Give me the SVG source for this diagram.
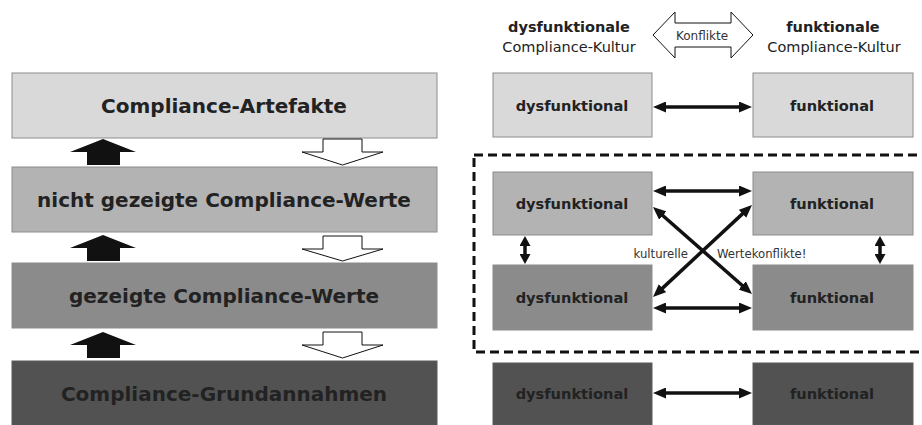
<svg xmlns="http://www.w3.org/2000/svg" width="922" height="425" viewBox="0 0 922 425">
  <style>
    .layer { stroke: #8c8c8c; stroke-width: 1; }
    .l1 { fill: #d9d9d9; }
    .l2 { fill: #b3b3b3; }
    .l3 { fill: #8b8b8b; }
    .l4 { fill: #525252; stroke: #5a5a5a; }
    .big { font-family: "DejaVu Sans", Verdana, sans-serif; font-weight: bold; font-size: 20px; fill: #222; text-anchor: middle; }
    .box { font-family: "DejaVu Sans", Verdana, sans-serif; font-weight: bold; font-size: 14.6px; fill: #222; text-anchor: middle; }
    .head { font-family: "DejaVu Sans", Verdana, sans-serif; font-size: 14.5px; fill: #222; text-anchor: middle; }
    .head b, .hb { font-weight: bold; }
    .small { font-family: "DejaVu Sans", Verdana, sans-serif; font-size: 11.7px; fill: #333; }
    .up { fill: #111; }
    .down { fill: #fff; stroke: #111; stroke-width: 1; }
    .link { stroke: #111; stroke-width: 3.5; fill: none; }
  </style>
  <defs>
    <marker id="tip" markerUnits="userSpaceOnUse" markerWidth="13" markerHeight="11" refX="8" refY="5.5" orient="auto-start-reverse">
      <path d="M0,0 L13,5.5 L0,11 Z" fill="#111"/>
    </marker>
    <marker id="tipS" markerUnits="userSpaceOnUse" markerWidth="10" markerHeight="11" refX="6" refY="5.5" orient="auto-start-reverse">
      <path d="M0,0 L10,5.5 L0,11 Z" fill="#111"/>
    </marker>
  </defs>

  <!-- left column: culture layers -->
  <g id="layer-artefakte">
    <rect class="layer l1" x="12" y="73" width="425" height="65"/>
    <text class="big" x="224" y="113">Compliance-Artefakte</text>
  </g>
  <g id="layer-nicht-gezeigt">
    <rect class="layer l2" x="12" y="167" width="425" height="65"/>
    <text class="big" x="224" y="207">nicht gezeigte Compliance-Werte</text>
  </g>
  <g id="layer-gezeigt">
    <rect class="layer l3" x="12" y="263" width="425" height="65"/>
    <text class="big" x="224" y="303">gezeigte Compliance-Werte</text>
  </g>
  <g id="layer-grundannahmen">
    <rect class="layer l4" x="12" y="361" width="425" height="66"/>
    <text class="big" x="224" y="401">Compliance-Grundannahmen</text>
  </g>

  <!-- block arrows between layers -->
  <g id="layer-arrows">
    <polygon class="up" points="103,139 136,152 120,152 120,165 87,165 87,152 70,152"/>
    <polygon class="up" points="103,235 136,248 120,248 120,261 87,261 87,248 70,248"/>
    <polygon class="up" points="103,332 136,345 120,345 120,358 87,358 87,345 70,345"/>
    <polygon class="down" points="323,139 362,139 362,152 383,152 342.5,165 302,152 323,152"/>
    <polygon class="down" points="323,236 362,236 362,249 383,249 342.5,261 302,249 323,249"/>
    <polygon class="down" points="323,332 362,332 362,345 383,345 342.5,358 302,345 323,345"/>
  </g>

  <!-- right column headings -->
  <g id="heading-dysfunktional">
    <text class="head hb" x="569" y="32">dysfunktionale</text>
    <text class="head" x="569" y="52">Compliance-Kultur</text>
  </g>
  <g id="heading-konflikte">
    <polygon points="653,35 675,12 675,23 731,23 731,12 753,35 731,58 731,47 675,47 675,58" fill="#fff" stroke="#111" stroke-width="1"/>
    <text x="702" y="40" font-family="DejaVu Sans, Verdana, sans-serif" font-size="12" fill="#333" text-anchor="middle">Konflikte</text>
  </g>
  <g id="heading-funktional">
    <text class="head hb" x="833" y="32">funktionale</text>
    <text class="head" x="834" y="52">Compliance-Kultur</text>
  </g>

  <!-- value-conflict zone -->
  <rect id="conflict-zone" x="474" y="155" width="460" height="197" fill="none" stroke="#111" stroke-width="3" stroke-dasharray="9 5"/>

  <!-- right column boxes -->
  <g id="dys-1">
    <rect class="layer l1" x="493" y="73" width="159" height="64"/>
    <text class="box" x="572" y="111">dysfunktional</text>
  </g>
  <g id="fun-1">
    <rect class="layer l1" x="753" y="73" width="160" height="64"/>
    <text class="box" x="832" y="111">funktional</text>
  </g>
  <g id="dys-2">
    <rect class="layer l2" x="493" y="172" width="159" height="63"/>
    <text class="box" x="572" y="209">dysfunktional</text>
  </g>
  <g id="fun-2">
    <rect class="layer l2" x="753" y="172" width="160" height="63"/>
    <text class="box" x="832" y="209">funktional</text>
  </g>
  <g id="dys-3">
    <rect class="layer l3" x="493" y="265" width="159" height="65"/>
    <text class="box" x="572" y="303">dysfunktional</text>
  </g>
  <g id="fun-3">
    <rect class="layer l3" x="753" y="265" width="160" height="65"/>
    <text class="box" x="832" y="303">funktional</text>
  </g>
  <g id="dys-4">
    <rect class="layer l4" x="493" y="363" width="159" height="62"/>
    <text class="box" x="572" y="399">dysfunktional</text>
  </g>
  <g id="fun-4">
    <rect class="layer l4" x="753" y="363" width="160" height="62"/>
    <text class="box" x="832" y="399">funktional</text>
  </g>

  <!-- connectors -->
  <g id="connectors">
    <line class="link" x1="658" y1="107" x2="747" y2="107" marker-start="url(#tip)" marker-end="url(#tip)"/>
    <line class="link" x1="658" y1="191" x2="747" y2="191" marker-start="url(#tip)" marker-end="url(#tip)"/>
    <line class="link" x1="658" y1="308" x2="747" y2="308" marker-start="url(#tip)" marker-end="url(#tip)"/>
    <line class="link" x1="658" y1="393" x2="747" y2="393" marker-start="url(#tip)" marker-end="url(#tip)"/>
    <line class="link" x1="656.75" y1="210.3" x2="748.25" y2="290.7" marker-start="url(#tip)" marker-end="url(#tip)"/>
    <line class="link" x1="748.34" y1="208.4" x2="656.66" y2="293.6" marker-start="url(#tip)" marker-end="url(#tip)"/>
    <line class="link" x1="525" y1="240" x2="525" y2="260" marker-start="url(#tipS)" marker-end="url(#tipS)"/>
    <line class="link" x1="880" y1="240" x2="880" y2="260" marker-start="url(#tipS)" marker-end="url(#tipS)"/>
  </g>

  <!-- conflict label -->
  <text class="small" x="688" y="258" text-anchor="end">kulturelle</text>
  <text class="small" x="717" y="258">Wertekonflikte!</text>
</svg>
